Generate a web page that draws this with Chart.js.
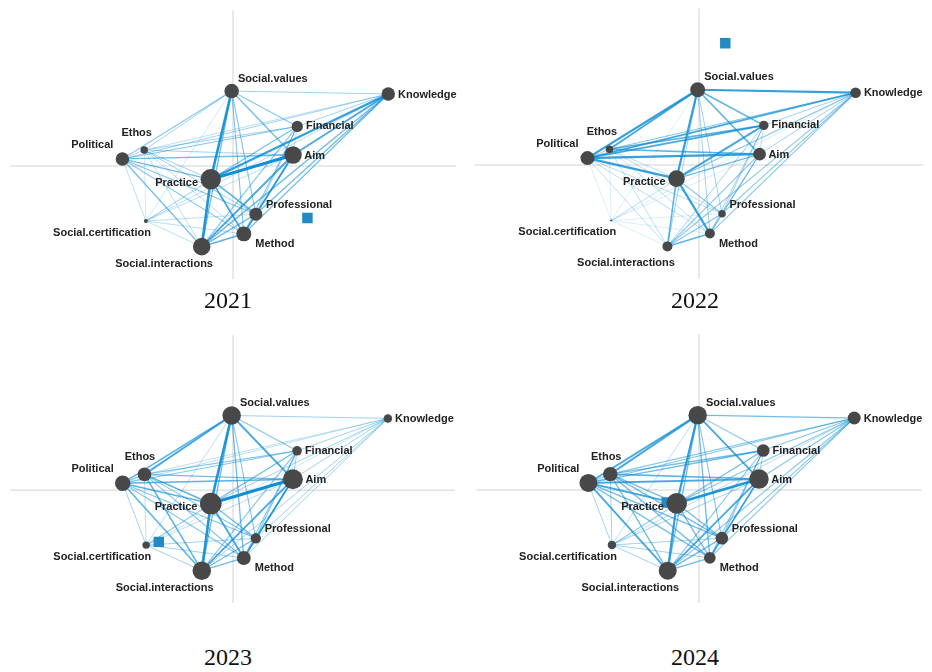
<!DOCTYPE html>
<html>
<head>
<meta charset="utf-8">
<script src="https://cdn.jsdelivr.net/npm/chart.js@4.4.1/dist/chart.umd.min.js"></script>
<style>
  html, body { margin: 0; padding: 0; background: #fff; }
  body { width: 932px; height: 672px; position: relative; overflow: hidden; }
  canvas { position: absolute; }
  .year {
    position: absolute; transform: translate(-50%, -50%);
    font-family: "Liberation Serif", "Times New Roman", serif;
    font-size: 24px; line-height: 24px; color: #111; white-space: nowrap;
  }
</style>
</head>
<body>
<canvas id="c2021" width="466" height="290" style="left:0px;top:0px"></canvas>
<canvas id="c2022" width="466" height="290" style="left:466px;top:0px"></canvas>
<canvas id="c2023" width="466" height="290" style="left:0px;top:324px"></canvas>
<canvas id="c2024" width="466" height="290" style="left:466px;top:324px"></canvas>
<div class="year" style="left:228px;top:300px">2021</div>
<div class="year" style="left:695px;top:300px">2022</div>
<div class="year" style="left:228px;top:657px">2023</div>
<div class="year" style="left:695px;top:657px">2024</div>

<script>
// Themes (nodes) and their coordinates on the two map dimensions
const themes = ['Social.values', 'Knowledge', 'Financial', 'Aim', 'Ethos', 'Political',
                'Practice', 'Professional', 'Method', 'Social.certification', 'Social.interactions'];
const dim1 = [-0.012, 1.394, 0.577, 0.539, -0.797, -0.993, -0.200, 0.205, 0.097, -0.782, -0.281];
const dim2 = [ 0.668, 0.642, 0.352, 0.097,  0.141,  0.062, -0.120, -0.431, -0.607, -0.492, -0.721];

// Theme frequency per year (same order as themes)
const freq2021 = [53, 45, 32, 76, 14, 45, 104, 42, 56, 4, 77];
const freq2022 = [56, 28, 22, 40, 14, 49, 69, 14, 25, 1, 25];
const freq2023 = [86, 18, 23, 100, 46, 59, 117, 27, 49, 14, 86];
const freq2024 = [85, 42, 40, 94, 52, 81, 106, 40, 34, 18, 81];

// Co-occurrence strength, upper triangle: row i lists ties of themes[i] with themes[i+1..]
const tie2021 = [
  [1.5, 2, 2.5, 1.5, 2, 4.5, 2, 2, 0.5, 2.5],
  [1.5, 3.5, 1, 1.5, 4, 2.5, 2.5, 1, 2.5],
  [1, 1.5, 2, 2, 1.5, 2, 0.5, 2],
  [1.5, 2.5, 5, 2.5, 3.5, 1, 3.5],
  [1, 1.5, 1.5, 1, 0.5, 1],
  [2.5, 2, 2, 1, 2.5],
  [3, 3.5, 1, 4.5],
  [2, 1, 2.5],
  [1, 3],
  [1]
];
const tie2022 = [
  [4, 3, 3, 3.5, 4, 4, 1.5, 1.5, 0.2, 1.5],
  [1.5, 1.5, 2, 3.5, 2, 2, 2, 0.2, 2],
  [1, 3, 3.5, 3.5, 1.5, 1.5, 0.2, 1.5],
  [3, 4, 2.5, 1.5, 2, 0.2, 2],
  [1.5, 1, 1, 1, 0.2, 1],
  [4, 1, 1, 0.2, 1],
  [2, 4, 0.2, 3],
  [1.5, 0.2, 2],
  [0.2, 3],
  [0.2]
];
const tie2023 = [
  [1.5, 2, 3.5, 3.5, 3, 4.5, 2, 2.5, 1, 2.5],
  [1.5, 1.5, 1, 1, 1.5, 1.5, 1.5, 0.5, 1.5],
  [1.5, 2, 2, 2, 2, 2, 1, 2],
  [2.5, 3, 5, 2.5, 3.5, 1, 3.5],
  [2, 3, 2, 2, 1, 3],
  [3, 2, 2, 1.5, 3],
  [2.5, 3.5, 1.5, 4.5],
  [2.5, 1.5, 2.5],
  [1.5, 2.5],
  [1.5]
];
const tie2024 = [
  [2.5, 2, 3.5, 3.5, 3.5, 4, 2, 2.5, 1, 2.5],
  [2, 2, 2, 2, 2, 2, 2, 1, 2],
  [1.5, 2.5, 2.5, 2, 2, 2, 1, 2],
  [3, 3.5, 4.5, 2.5, 3, 1.5, 3.5],
  [2, 2.5, 2.5, 2.5, 1.5, 2.5],
  [3.5, 2.5, 2.5, 1.5, 3.5],
  [2.5, 2.5, 1.5, 4],
  [2.5, 1.5, 2.5],
  [1.5, 2.5],
  [1.5]
];

// Supplementary point (year marker) on the two dimensions
const markerX = [0.668, 0.234, -0.668, -0.290];
const markerY = [-0.466, 1.081, -0.463, -0.113];

// ---- styling ----
const NODE_COLOR = '#484848';
const MARKER_COLOR = '#2289c2';
const AXIS_COLOR = '#e2e2e2';
const X_RANGE = [-2, 2];
const Y_RANGE = [-1.01, 1.39];

function tieStyle(w) {
  const a = Math.min(1, 0.17 + 0.17 * w);
  return { color: `rgba(16,143,214,${a.toFixed(3)})`, width: 0.75 + 0.09 * w * w };
}
function radiusOf(f) { return Math.sqrt(f); }

// label placement: x = node + dx + k * radius
const labelPlace = {
  'Social.values':        { align: 'left',   dx: -1,  k: 1,  dy: -12.5 },
  'Knowledge':            { align: 'left',   dx: 3,   k: 1,  dy: 0.5 },
  'Financial':            { align: 'left',   dx: 3,   k: 1,  dy: 0 },
  'Aim':                  { align: 'left',   dx: 2.5, k: 1,  dy: 0.5 },
  'Ethos':                { align: 'right',  dx: 4,   k: 1,  dy: -17 },
  'Political':            { align: 'right',  dx: -9,  k: 0,  dy: -14 },
  'Practice':             { align: 'right',  dx: -2.5, k: -1, dy: 3.5 },
  'Professional':         { align: 'left',   dx: 3.7, k: 1,  dy: -9 },
  'Method':               { align: 'left',   dx: 4,   k: 1,  dy: 10.5 },
  'Social.certification': { align: 'right',  dx: 5,   k: 0,  dy: 11.6 },
  'Social.interactions':  { align: 'right',  dx: 2.5, k: 1,  dy: 17 }
};

const nodeLabels = {
  id: 'nodeLabels',
  afterDatasetsDraw(chart, args, opts) {
    const { ctx } = chart;
    const sx = chart.scales.x, sy = chart.scales.y;
    ctx.save();
    ctx.font = 'bold 11px "Liberation Sans", Arial, sans-serif';
    ctx.fillStyle = '#222';
    ctx.textBaseline = 'middle';
    themes.forEach((name, i) => {
      const cx = sx.getPixelForValue(dim1[i]);
      const cy = sy.getPixelForValue(dim2[i]);
      const r = opts.radii[i];
      const p = Object.assign({}, labelPlace[name], (opts.override || {})[name]);
      ctx.textAlign = p.align;
      ctx.fillText(name, cx + p.dx + p.k * r, cy + p.dy);
    });
    ctx.restore();
  }
};

function buildPanel(canvasId, freq, ties, mIdx, override) {
  const radii = freq.map(radiusOf);
  const datasets = [];

  // zero axes
  datasets.push({ data: [{ x: X_RANGE[0], y: 0 }, { x: X_RANGE[1], y: 0 }],
    showLine: true, borderColor: AXIS_COLOR, borderWidth: 1.5, pointRadius: 0, order: 1000 });
  datasets.push({ data: [{ x: 0, y: Y_RANGE[0] }, { x: 0, y: Y_RANGE[1] }],
    showLine: true, borderColor: AXIS_COLOR, borderWidth: 1.5, pointRadius: 0, order: 1000 });

  // ties between themes
  ties.forEach((row, i) => {
    row.forEach((w, k) => {
      const j = i + 1 + k;
      const s = tieStyle(w);
      datasets.push({
        data: [{ x: dim1[i], y: dim2[i] }, { x: dim1[j], y: dim2[j] }],
        showLine: true, borderColor: s.color, borderWidth: s.width,
        pointRadius: 0, order: 500 - w * 10
      });
    });
  });

  // year marker
  datasets.push({
    data: [{ x: markerX[mIdx], y: markerY[mIdx] }],
    pointStyle: 'rect', pointRadius: 7.4, backgroundColor: MARKER_COLOR,
    borderWidth: 0, order: 1
  });

  // theme nodes
  datasets.push({
    data: themes.map((t, i) => ({ x: dim1[i], y: dim2[i] })),
    pointRadius: radii, backgroundColor: NODE_COLOR, borderWidth: 0, order: 0
  });

  new Chart(document.getElementById(canvasId), {
    type: 'scatter',
    data: { datasets },
    options: {
      responsive: false, animation: false, devicePixelRatio: 1,
      layout: { padding: { left: 7, right: 4, top: 6, bottom: 11 } },
      scales: {
        x: { type: 'linear', min: X_RANGE[0], max: X_RANGE[1], display: false },
        y: { type: 'linear', min: Y_RANGE[0], max: Y_RANGE[1], display: false }
      },
      plugins: {
        legend: { display: false }, tooltip: { enabled: false },
        nodeLabels: { radii, override }
      },
      events: []
    },
    plugins: [nodeLabels]
  });
}

buildPanel('c2021', freq2021, tie2021, 0, { 'Financial': { align: 'center', dx: 16, k: 0, dy: -14.5 } });
buildPanel('c2022', freq2022, tie2022, 1, { 'Practice': { align: 'right', dx: -7.4, k: -1, dy: 3.5 } });
buildPanel('c2023', freq2023, tie2023, 2, {});
buildPanel('c2024', freq2024, tie2024, 3, { 'Practice': { align: 'center', dx: -29.5, k: 0, dy: 11 } });
</script>
</body>
</html>
